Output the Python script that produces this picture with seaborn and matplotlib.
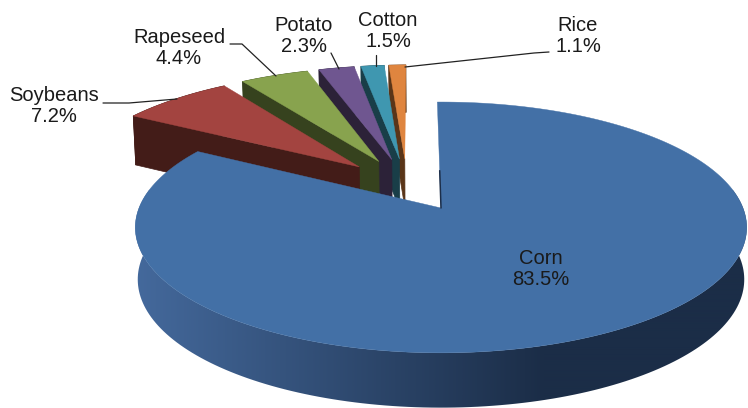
import numpy as np
import matplotlib
matplotlib.use("Agg")
import matplotlib.pyplot as plt
from matplotlib.colors import LinearSegmentedColormap
from matplotlib.patches import Polygon
import seaborn as sns

categories = ["Corn", "Soybeans", "Rapeseed", "Potato", "Cotton", "Rice"]
shares = [83.5, 7.2, 4.4, 2.3, 1.5, 1.1]

top_colors = ["#4370A6", "#A34440", "#88A34E", "#6F5690", "#3F97B0", "#DF853F"]
side_colors = ["#1B2D47", "#431C18", "#36421E", "#2C2238", "#193E48", "#5A3518"]

label_pos = {"Corn": (541, 269), "Soybeans": (54, 106), "Rapeseed": (179, 48),
             "Potato": (304, 36), "Cotton": (388, 31), "Rice": (578, 36)}
leaders = {"Soybeans": ([103, 129, 177], [103, 103, 99]),
           "Rapeseed": ([230, 242, 276], [44, 44, 76]),
           "Potato": ([331, 339], [53, 69]),
           "Cotton": ([376, 376], [55, 66]),
           "Rice": ([549, 534, 405], [52, 53, 67])}

sns.set_theme(style="white")
plt.rcParams["font.family"] = ["Liberation Sans", "DejaVu Sans"]

CX, CY, A, B, K = 441.0, 208.0, 122.4, 302.0, 0.155
EXPLODE = 0.23
ROT = -0.8


def project(u, v, depth=0.0):
    den = 1 + K * v
    x = CX + B * u / den
    y = CY - A * v / den
    if depth:
        x = CX + (x - CX) * (1 - 0.008)
        y = y + depth / (1 + 0.06 * v)
    return x, y


def unit(deg):
    r = np.radians(deg)
    return np.sin(r), np.cos(r)


fig = plt.figure(figsize=(7.48, 4.08), dpi=100)
ax = fig.add_axes([0, 0, 1, 1])
ax.set_xlim(0, 748)
ax.set_ylim(408, 0)
ax.axis("off")

fracs = np.array(shares) / np.sum(shares)
ends = np.cumsum(fracs) * 360 + ROT
starts = ends - fracs * 360
mid0 = unit((starts[0] + ends[0]) / 2)
H = 51.5

for i in reversed(range(len(categories))):
    th = np.linspace(starts[i], ends[i], 240)
    mid = unit((starts[i] + ends[i]) / 2)
    # every wedge is moved along its own bisector, relative to the first one
    ou = EXPLODE * (mid[0] - mid0[0])
    ov = EXPLODE * (mid[1] - mid0[1])
    us, vs = unit(th)
    us = us + ou
    vs = vs + ov
    tx, ty = project(us, vs)
    bx, by = project(us, vs, H)
    ax0, ay0 = project(ou, ov)
    ax1, ay1 = project(ou, ov, H)
    z = 2 * (len(categories) - i)
    if i > 0:
        # left radial wall + outer wall
        ax.fill([tx[0], ax0, ax1, bx[0]], [ty[0], ay0, ay1, by[0]],
                color=side_colors[i], lw=0.5, zorder=z)
        ax.fill(np.r_[tx, bx[::-1]], np.r_[ty, by[::-1]],
                color=side_colors[i], lw=0.5, zorder=z)
    else:
        # smooth left-to-right shading of the round wall
        cmap = LinearSegmentedColormap.from_list("rim", ["#44699C", side_colors[0]])
        shade = np.clip((np.arange(135, 748) - 135) / (545 - 135), 0, 1).reshape(1, -1)
        im = ax.imshow(shade, cmap=cmap, vmin=0, vmax=1, aspect="auto",
                       extent=(135, 748, 408, 190), zorder=z, interpolation="bilinear")
        wall = Polygon(np.c_[np.r_[tx, bx[::-1]], np.r_[ty, by[::-1]]],
                       closed=True, transform=ax.transData)
        im.set_clip_path(wall)
        ax.set_xlim(0, 748)
        ax.set_ylim(408, 0)
    ax.fill(np.r_[ax0, tx], np.r_[ay0, ty], color=top_colors[i], lw=0.3, zorder=z + 1)
    if i == 0:
        ex, ey = project(us[0] * 0.32, vs[0] * 0.32)
        ax.plot([ax0, ex], [ay0, ey], color="#1C2E49", lw=1.1, zorder=z + 1)

for name, share in zip(categories, shares):
    x, y = label_pos[name]
    ax.text(x, y, f"{name}\n{share}%", ha="center", va="center", fontsize=14.5,
            color="#1a1a1a", linespacing=1.12, zorder=30)
    if name in leaders:
        lx, ly = leaders[name]
        ax.plot(lx, ly, color="#222222", lw=0.9, zorder=29)

fig.savefig("out.png", dpi=100, facecolor="white")
